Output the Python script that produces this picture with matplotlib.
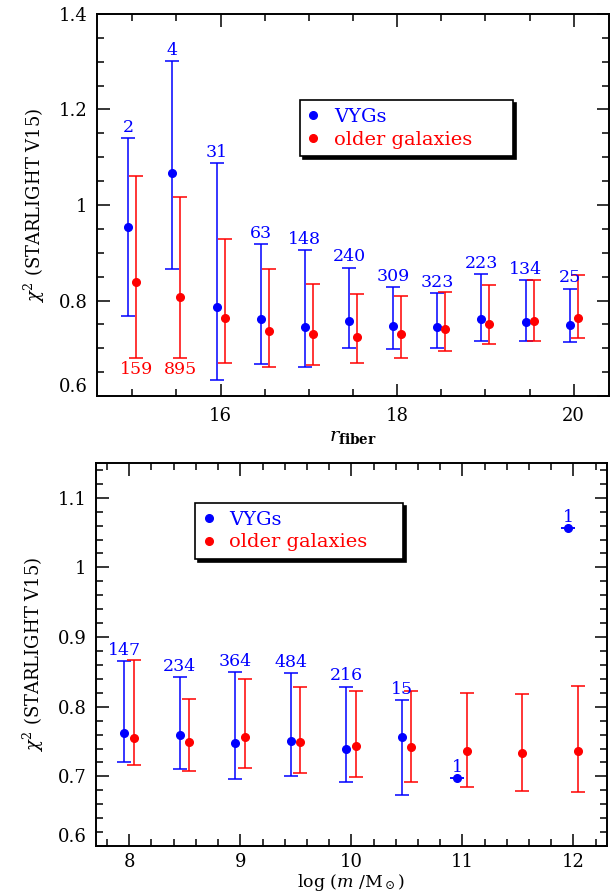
import matplotlib
matplotlib.use("Agg")
import matplotlib.pyplot as plt
from matplotlib.lines import Line2D
from matplotlib.ticker import MultipleLocator, FixedLocator

plt.rcParams['font.family'] = ['DejaVu Serif']
plt.rcParams['mathtext.fontset'] = 'dejavuserif'

# ---- top panel data (r_fiber) ----
rfib = [15.0, 15.5, 16.0, 16.5, 17.0, 17.5, 18.0, 18.5, 19.0, 19.5, 20.0]
vyg_r_mid = [0.953, 1.067, 0.786, 0.761, 0.744, 0.757, 0.747, 0.744, 0.761, 0.754, 0.749]
vyg_r_lo = [0.768, 0.867, 0.634, 0.667, 0.660, 0.701, 0.698, 0.701, 0.716, 0.716, 0.714]
vyg_r_hi = [1.140, 1.302, 1.087, 0.918, 0.906, 0.869, 0.828, 0.816, 0.855, 0.842, 0.825]
vyg_r_n = ['2', '4', '31', '63', '148', '240', '309', '323', '223', '134', '25']
old_r_mid = [0.839, 0.808, 0.764, 0.736, 0.729, 0.724, 0.730, 0.740, 0.751, 0.758, 0.763]
old_r_lo = [0.680, 0.680, 0.670, 0.660, 0.664, 0.669, 0.680, 0.694, 0.708, 0.716, 0.722]
old_r_hi = [1.061, 1.017, 0.928, 0.867, 0.834, 0.814, 0.809, 0.818, 0.832, 0.842, 0.854]
old_r_n = ['159', '895']

# ---- bottom panel data (log mass) ----
mass_vyg = [8.0, 8.5, 9.0, 9.5, 10.0, 10.5, 11.0, 12.0]
vyg_m_mid = [0.762, 0.759, 0.748, 0.751, 0.739, 0.757, 0.698, 1.057]
vyg_m_lo = [0.720, 0.710, 0.696, 0.701, 0.692, 0.673, 0.698, 1.057]
vyg_m_hi = [0.865, 0.842, 0.850, 0.848, 0.829, 0.810, 0.698, 1.057]
vyg_m_n = ['147', '234', '364', '484', '216', '15', '1', '1']
mass_old = [8.0, 8.5, 9.0, 9.5, 10.0, 10.5, 11.0, 11.5, 12.0]
old_m_mid = [0.755, 0.749, 0.756, 0.750, 0.744, 0.742, 0.737, 0.733, 0.736]
old_m_lo = [0.716, 0.708, 0.712, 0.705, 0.699, 0.692, 0.685, 0.679, 0.677]
old_m_hi = [0.867, 0.811, 0.840, 0.829, 0.823, 0.823, 0.820, 0.818, 0.830]

BLUE = '#0000ff'
RED = '#ff0000'
FS = 13

fig = plt.figure(figsize=(6.16, 8.96), dpi=100)
ax1 = fig.add_axes([0.1575, 0.558, 0.8311, 0.4264])
ax2 = fig.add_axes([0.1558, 0.0558, 0.8292, 0.4275])


def draw(ax, x, mid, lo, hi, color, dx):
    xs = [v + dx for v in x]
    yerr = [[m - l for m, l in zip(mid, lo)], [h - m for m, h in zip(mid, hi)]]
    ax.errorbar(xs, mid, yerr=yerr, fmt='o', color=color, ms=5.5,
                elinewidth=1.1, capsize=5, capthick=1.1, zorder=3)
    return xs


def style(ax, xpad):
    for s in ax.spines.values():
        s.set_linewidth(1.4)
    ax.tick_params(which='both', direction='in', top=True, right=True,
                   labelsize=FS, width=1.1)
    ax.tick_params(which='major', length=9, pad=7)
    ax.tick_params(which='minor', length=5)
    ax.tick_params(axis='x', which='major', pad=xpad)
    ticks = ax.yaxis.get_major_ticks()
    ticks[0].label1.set_va('bottom')


def legend(ax, x0, ytop, w):
    h = 0.12
    handles = [Line2D([], [], marker='o', ls='none', color=BLUE, ms=5.5),
               Line2D([], [], marker='o', ls='none', color=RED, ms=5.5)]
    leg = ax.legend(handles, ['VYGs', 'older galaxies'], loc='upper left',
                    bbox_to_anchor=(x0, ytop - h, w, h), mode='expand',
                    borderaxespad=0, fancybox=False,
                    shadow={'color': 'black', 'alpha': 1.0}, edgecolor='black',
                    fontsize=14, handlelength=0.6, handletextpad=0.75,
                    labelspacing=0.25, borderpad=0.4, framealpha=1)
    leg.get_frame().set_linewidth(1.2)
    for t, c in zip(leg.get_texts(), [BLUE, RED]):
        t.set_color(c)


# ---- top ----
xb = draw(ax1, rfib, vyg_r_mid, vyg_r_lo, vyg_r_hi, BLUE, -0.045)
xr = draw(ax1, rfib, old_r_mid, old_r_lo, old_r_hi, RED, 0.045)
for x, h, n in zip(xb, vyg_r_hi, vyg_r_n):
    ax1.annotate(n, (x, h), xytext=(0, 1.5), textcoords='offset points',
                 ha='center', va='bottom', color=BLUE, fontsize=12.5)
for x, l, n in zip(xr, old_r_lo, old_r_n):
    ax1.annotate(n, (x, l), xytext=(0, -2), textcoords='offset points',
                 ha='center', va='top', color=RED, fontsize=12.5)
ax1.set_xlim(14.6, 20.4)
ax1.set_ylim(0.6, 1.4)
ax1.xaxis.set_major_locator(MultipleLocator(2))
ax1.xaxis.set_minor_locator(MultipleLocator(0.5))
ax1.yaxis.set_major_locator(FixedLocator([0.6, 0.8, 1.0, 1.2, 1.4]))
ax1.yaxis.set_minor_locator(MultipleLocator(0.05))
ax1.set_yticklabels(['0.6', '0.8', '1', '1.2', '1.4'])
ax1.set_xlabel(r'$r_{\mathbf{fiber}}$', fontsize=FS + 1, labelpad=2)
ax1.set_ylabel(r'$\chi^2$ (STARLIGHT V15)', fontsize=FS, labelpad=8)
style(ax1, 8)
legend(ax1, 0.396, 0.775, 0.416)

# ---- bottom ----
xb2 = draw(ax2, mass_vyg, vyg_m_mid, vyg_m_lo, vyg_m_hi, BLUE, -0.045)
draw(ax2, mass_old, old_m_mid, old_m_lo, old_m_hi, RED, 0.04)
for x, h, n in zip(xb2, vyg_m_hi, vyg_m_n):
    ax2.annotate(n, (x, h), xytext=(0, 1.5), textcoords='offset points',
                 ha='center', va='bottom', color=BLUE, fontsize=12.5)
ax2.set_xlim(7.7, 12.3)
ax2.set_ylim(0.6, 1.15)
ax2.xaxis.set_major_locator(MultipleLocator(1))
ax2.xaxis.set_minor_locator(MultipleLocator(0.2))
ax2.yaxis.set_major_locator(FixedLocator([0.6, 0.7, 0.8, 0.9, 1.0, 1.1]))
ax2.yaxis.set_minor_locator(MultipleLocator(0.02))
ax2.set_yticklabels(['0.6', '0.7', '0.8', '0.9', '1', '1.1'])
ax2.set_xlabel(r'log ($m$ /M$_\odot$)', fontsize=12.5, labelpad=0.5)
ax2.set_ylabel(r'$\chi^2$ (STARLIGHT V15)', fontsize=FS, labelpad=8)
style(ax2, 5)
legend(ax2, 0.194, 0.896, 0.407)

fig.savefig('out.png', dpi=100)
